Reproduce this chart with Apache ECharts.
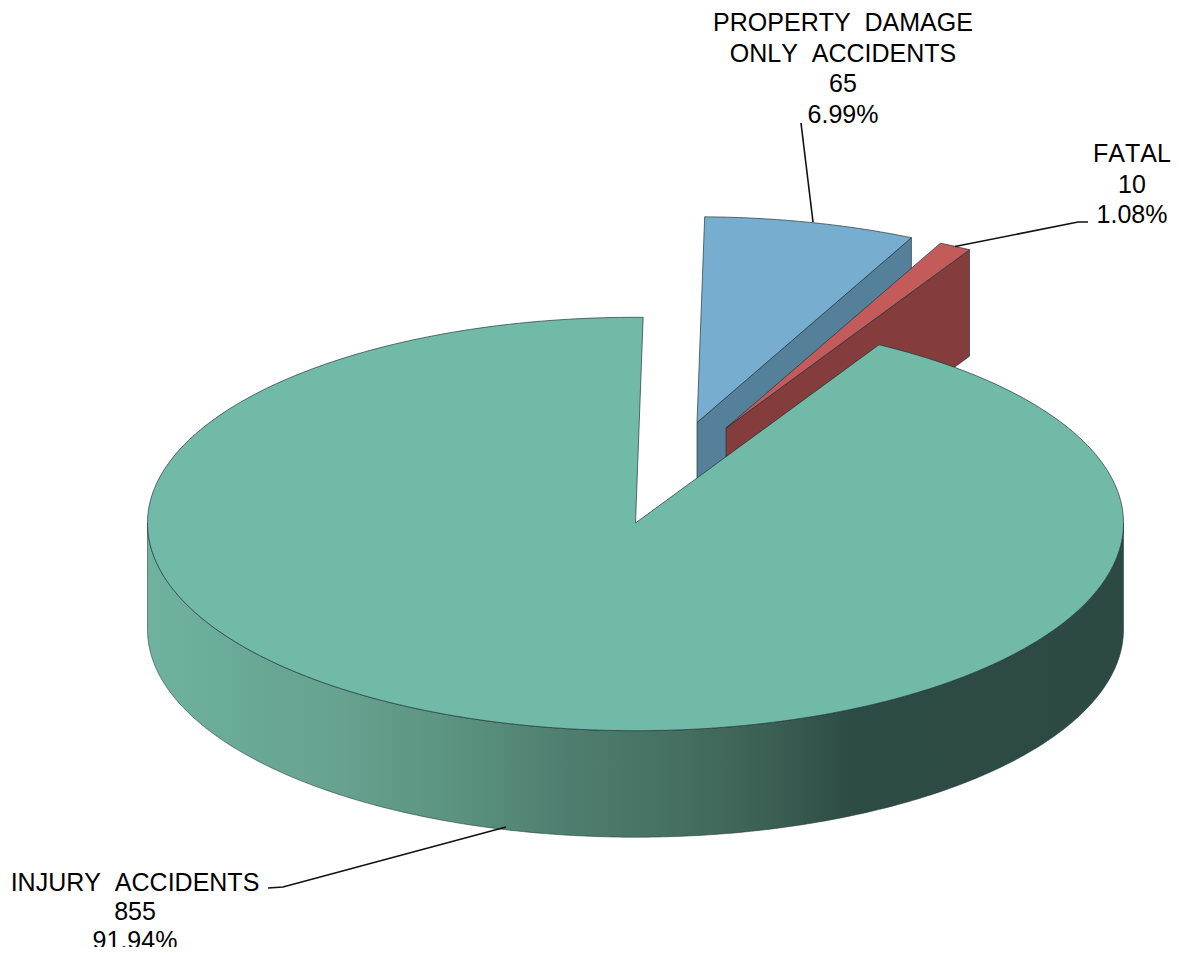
<!DOCTYPE html>
<html><head><meta charset="utf-8">
<style>html,body{margin:0;padding:0;background:#fff}#c{width:1179px;height:947px;overflow:hidden}svg text{font-kerning:none!important}</style>
<script src="https://cdn.jsdelivr.net/npm/echarts@6/dist/echarts.min.js"></script>
</head><body><div id="c"></div>
<script>
// Data (clockwise from the top of the pie)
const categories = ['PROPERTY  DAMAGE\nONLY  ACCIDENTS', 'FATAL', 'INJURY  ACCIDENTS'];
const values = [65, 10, 855];
const percentLabels = ['6.99%', '1.08%', '91.94%'];

// Look of the pseudo-3D projection
const pie = {cx: 635.5, cy: 523, rx: 488, ryBack: 205.7, ryFront: 207.7, depth: 106.5, startDeg: 0.9};
const explodeX = [61.5, 90.5, 0];
const explodeY = [-100.5, -95, 0];
const topColors = ['#77AED0', '#C25B5A', '#72BAA8'];
const sideColors = ['#54809A', '#843C3C', '#72BAA8'];
const labelX = [843, 1132, 135];
const labelY = [7, 138, 867];
const labelLineHeight = [30.5, 30.5, 29];
const leaders = [
  [[801, 123], [813, 222]],
  [[955, 246.5], [1078, 222], [1088, 222]],
  [[268, 888], [283, 887], [506, 827]]
];
const edge = 'rgba(30,50,55,0.68)';
const wallStops = [
  [0, '#6FB2A0'], [0.1, '#6AA997'], [0.2, '#66A28F'], [0.3, '#5C9582'], [0.36, '#568B79'],
  [0.42, '#4F7F70'], [0.5, '#4A7566'], [0.57, '#436B5D'], [0.64, '#3A5F53'], [0.72, '#2D4C45'], [1, '#2C4A43']
];

const total = values.reduce((a, b) => a + b, 0);
function pt(ox, oy, deg, dz) {
  const t = deg * Math.PI / 180, c = Math.cos(t);
  return [ox + pie.rx * Math.sin(t), oy - (c > 0 ? pie.ryBack : pie.ryFront) * c + (dz || 0)];
}
function arc(ox, oy, a, b, dz) {
  const n = Math.max(2, Math.ceil(Math.abs(b - a) * 1.5)), out = [];
  for (let i = 0; i <= n; i++) out.push(pt(ox, oy, a + (b - a) * i / n, dz));
  return out;
}
function renderItem(params, api) {
  const i = params.dataIndex;
  let start = pie.startDeg;
  for (let k = 0; k < i; k++) start += values[k] / total * 360;
  const end = start + api.value(0) / total * 360;
  const ox = pie.cx + explodeX[i], oy = pie.cy + explodeY[i];
  const children = [];
  const lineStyle = {stroke: edge, lineWidth: 1};
  // outer wall, only where it faces the viewer
  const a = Math.max(start, 90), b = Math.min(end, 270);
  if (b > a) {
    const pts = arc(ox, oy, a, b, 0).concat(arc(ox, oy, b, a, pie.depth));
    children.push({type: 'polygon', shape: {points: pts}, silent: true, style: {
      fill: new echarts.graphic.LinearGradient(pie.cx - pie.rx, 0, pie.cx + pie.rx, 0,
             wallStops.map(s => ({offset: s[0], color: s[1]})), true),
      stroke: edge, lineWidth: 0.8}});
  }
  // cut face on the clockwise edge
  if (explodeX[i] !== 0) {
    const c = pt(ox, oy, end, 0);
    children.push({type: 'polygon', silent: true, shape: {points: [[ox, oy], c, [c[0], c[1] + pie.depth], [ox, oy + pie.depth]]},
      style: Object.assign({fill: sideColors[i]}, lineStyle)});
  }
  // top face
  children.push({type: 'polygon', silent: true, shape: {points: [[ox, oy]].concat(arc(ox, oy, start, end, 0))},
    style: Object.assign({fill: topColors[i]}, lineStyle)});
  // leader and label
  children.push({type: 'polyline', silent: true, shape: {points: leaders[i]},
    style: {fill: null, stroke: '#111', lineWidth: 1.6}});
  children.push({type: 'text', silent: true, style: {
    text: categories[i] + '\n' + api.value(0) + '\n' + percentLabels[i],
    x: labelX[i], y: labelY[i], align: 'center', verticalAlign: 'top',
    font: '25px "Liberation Sans", Arial, sans-serif', lineHeight: labelLineHeight[i], fill: '#000'}});
  return {type: 'group', children};
}
const chart = echarts.init(document.getElementById('c'), null, {renderer: 'svg'});
chart.setOption({
  animation: false,
  backgroundColor: '#fff',
  series: [{type: 'custom', coordinateSystem: 'none', clip: false, renderItem, data: values, animation: false}]
});
</script></body></html>
